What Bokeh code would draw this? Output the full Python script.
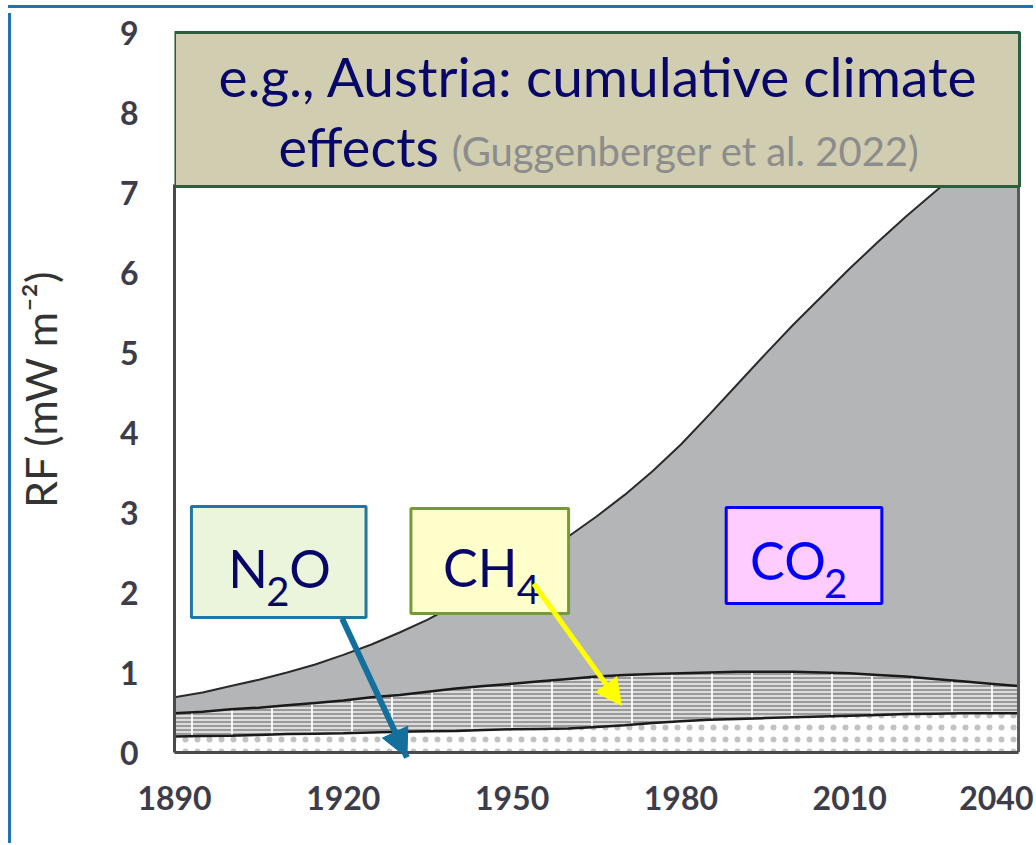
import numpy as np
from bokeh.plotting import figure
from bokeh.layouts import column
from bokeh.models import ColumnDataSource, Label, Arrow, NormalHead, FixedTicker, Div
from bokeh.embed import file_html
from bokeh.resources import INLINE

# ---------------- data ----------------
years = [1890, 1895, 1900, 1905, 1910, 1915, 1920, 1925, 1930, 1935, 1940, 1945, 1950, 1955, 1960,
         1965, 1970, 1975, 1980, 1985, 1990, 1995, 2000, 2005, 2010, 2015, 2020, 2025, 2030, 2035, 2040]
n2o = [0.20, 0.205, 0.21, 0.22, 0.23, 0.235, 0.24, 0.25, 0.26, 0.265, 0.27, 0.28, 0.29, 0.295, 0.30,
       0.32, 0.34, 0.37, 0.39, 0.41, 0.42, 0.43, 0.44, 0.45, 0.46, 0.47, 0.48, 0.485, 0.49, 0.49, 0.49]
ch4 = [0.29, 0.305, 0.33, 0.34, 0.36, 0.385, 0.41, 0.44, 0.46, 0.495, 0.53, 0.55, 0.57, 0.595, 0.62,
       0.63, 0.63, 0.61, 0.60, 0.59, 0.59, 0.58, 0.57, 0.55, 0.53, 0.50, 0.47, 0.435, 0.40, 0.37, 0.34]
co2 = [0.20, 0.24, 0.29, 0.35, 0.41, 0.48, 0.57, 0.66, 0.78, 0.90, 1.05, 1.21, 1.39, 1.58, 1.78,
       2.00, 2.25, 2.54, 2.86, 3.22, 3.59, 3.97, 4.34, 4.70, 5.06, 5.41, 5.75, 6.08, 6.41, 6.72, 7.02]
x_ticks = [1890, 1920, 1950, 1980, 2010, 2040]
y_ticks = [0, 1, 2, 3, 4, 5, 6, 7, 8, 9]

n2o_top = np.array(n2o)
ch4_top = n2o_top + np.array(ch4)
co2_top = ch4_top + np.array(co2)
src = ColumnDataSource(dict(x=years, zero=[0] * len(years), n2o=n2o_top, ch4=ch4_top, co2=co2_top))

NAVY = "#07076a"
FONT = "Lato"
BLUE_FRAME = "#1f74b0"

p = figure(width=1022, height=830, x_range=(1890, 2040.53), y_range=(0, 9.0875),
           output_backend="svg", toolbar_location=None,
           min_border_left=161, min_border_right=12, min_border_top=12, min_border_bottom=91)
p.styles = {"margin-left": "11px", "box-shadow": "-3px 0px 0px 0px " + BLUE_FRAME}
p.outline_line_color = None
p.grid.visible = False
p.background_fill_color = "white"

# stacked areas
p.varea(x="x", y1="ch4", y2="co2", source=src, fill_color="#b3b5b7")
p.varea(x="x", y1="n2o", y2="ch4", source=src, fill_color="#9a9a9a",
        hatch_pattern="horizontal_line", hatch_color="#f2f2f2", hatch_scale=4, hatch_weight=1.5)
p.varea(x="x", y1="n2o", y2="ch4", source=src, fill_alpha=0,
        hatch_pattern="vertical_line", hatch_color="#f8f8f8", hatch_scale=40, hatch_weight=2)
p.varea(x="x", y1="zero", y2="n2o", source=src, fill_color="white",
        hatch_pattern="dot", hatch_color="#c2c2c2", hatch_scale=12, hatch_weight=1)
p.line(x="x", y="co2", source=src, line_color="#2a2a2a", line_width=2)
p.line(x="x", y="ch4", source=src, line_color="#1a1a1a", line_width=2.5)
p.line(x="x", y="n2o", source=src, line_color="#1a1a1a", line_width=2.5)
# right frame edge
p.segment(x0=[years[-1]], y0=[0], x1=[years[-1]], y1=[7.1], line_color="#5a5a5a", line_width=3)

# axes
p.xaxis.ticker = FixedTicker(ticks=x_ticks)
p.yaxis.ticker = FixedTicker(ticks=y_ticks)
p.xaxis.bounds = (1890, 2040)
p.yaxis.bounds = (0, 7.1)
for ax in (p.xaxis[0], p.yaxis[0]):
    ax.major_tick_line_color = None
    ax.minor_tick_line_color = None
    ax.major_tick_in = 0
    ax.major_tick_out = 0
    ax.minor_tick_out = 0
    ax.axis_line_color = "#4a4a4a"
    ax.axis_line_width = 3
    ax.major_label_text_font = FONT
    ax.major_label_text_font_style = "bold"
    ax.major_label_text_font_size = "32px"
    ax.major_label_text_color = "#3c3c4a"
p.yaxis.major_label_standoff = 36
p.xaxis.major_label_standoff = 33
p.yaxis.axis_label = "RF (mW m⁻²)"
p.yaxis.axis_label_text_font = FONT
p.yaxis.axis_label_text_font_style = "normal"
p.yaxis.axis_label_text_font_size = "43px"
p.yaxis.axis_label_text_color = "#333333"
p.yaxis.axis_label_standoff = 51

# title box
p.quad(left=[1890], right=[2040.18], bottom=[7.075], top=[9.0], fill_color="#d0cdb0",
       line_color="#2b5e3a", line_width=3)

def lab(x, y, t, size, color, align="left"):
    p.add_layout(Label(x=x, y=y, text=t, text_font=FONT, text_font_size=size,
                       text_color=color, text_align=align, text_baseline="alphabetic"))

lab(1965.35, 8.46, "e.g., Austria: cumulative climate", "55px", NAVY, "center")
lab(1936.99, 7.58, "effects", "54px", NAVY, "right")
lab(1939.29, 7.5175, "(Guggenberger et al. 2022)", "40px", "#8c8c8c")

# gas boxes
p.quad(left=[1893.01], right=[1924.04], bottom=[1.6875], top=[3.075], fill_color="#ebf5dc",
       line_color="#1f77a6", line_width=3)
p.quad(left=[1932.02], right=[1960.04], bottom=[1.7375], top=[3.05], fill_color="#ffffcc",
       line_color="#76993a", line_width=3)
p.quad(left=[1988.05], right=[2015.71], bottom=[1.8625], top=[3.0625], fill_color="#ffccff",
       line_color="#0000ff", line_width=3)

lab(1899.57, 2.309, "N", "52px", NAVY)
lab(1906.31, 2.0175, "2", "40px", NAVY)
lab(1910.39, 2.309, "O", "52px", NAVY)
lab(1937.70, 2.3215, "CH", "52px", NAVY)
lab(1950.82, 2.0425, "4", "40px", NAVY)
lab(1992.30, 2.409, "CO", "52px", "#0000ff")
lab(2005.43, 2.1175, "2", "40px", "#0000ff")

# arrows
p.add_layout(Arrow(x_start=1919.79, y_start=1.675, x_end=1931.31, y_end=-0.0625,
                   line_color="#13709c", line_width=6,
                   end=NormalHead(size=28, fill_color="#13709c", line_color="#13709c")))
p.add_layout(Arrow(x_start=1953.83, y_start=2.11, x_end=1969.43, y_end=0.5875,
                   line_color="#ffff00", line_width=5,
                   end=NormalHead(size=26, fill_color="#ffff00", line_color="#ffff00")))

top_rule = Div(text="", width=1025, height=3,
               styles={"background-color": BLUE_FRAME, "margin-left": "8px"})
layout = column(top_rule, p, spacing=0)

open("out.html", "w").write(file_html(layout, INLINE))
